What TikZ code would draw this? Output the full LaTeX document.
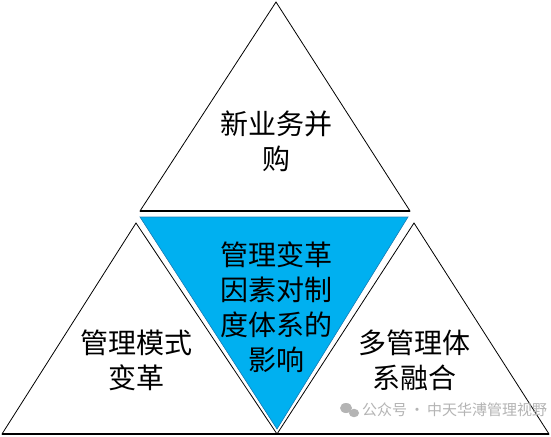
\documentclass[tikz,border=0pt]{standalone}
\usepackage{fontspec}
\newfontfamily\cjk{Noto Sans CJK SC}
\definecolor{skyblue}{HTML}{00B0F0}
\definecolor{skyedge}{HTML}{1F7FB8}
\definecolor{tealshade}{HTML}{1A9A8E}
\definecolor{markgray}{HTML}{B4B4B4}

\begin{document}
\begin{tikzpicture}[x=1pt,y=-1pt,
    tri/.style={draw=black,line width=0.8pt,line join=miter,fill=white},
    lbl/.style={font=\cjk\fontsize{28}{35}\selectfont,align=center,inner sep=0pt}]

    \useasboundingbox (0,0) rectangle (551,436);

    % corners
    \coordinate (TopA) at (276,2);
    \coordinate (TopL) at (140,211);
    \coordinate (TopR) at (410,211);

    \coordinate (LeftA) at (136,223);
    \coordinate (LeftL) at (2,434);
    \coordinate (LeftR) at (277,434);

    \coordinate (RightA) at (414,223);
    \coordinate (RightL) at (277,434);
    \coordinate (RightR) at (549,434);

    \coordinate (MidL) at (140,217);
    \coordinate (MidR) at (408,217);
    \coordinate (MidB) at (277,429);

    % triangles
    \draw[tri] (TopA) -- (TopR) -- (TopL) -- cycle;
    \draw[tri] (LeftA) -- (LeftR) -- (LeftL) -- cycle;
    \draw[tri] (RightA) -- (RightR) -- (RightL) -- cycle;
    \draw[line width=1.6pt] (LeftL) -- (RightR);
    \draw[line width=1.3pt] (TopL) -- (TopR);

    \fill[tealshade,shift={(5,4)}] (MidL) -- (MidR) -- (MidB) -- cycle;
    \draw[skyedge,fill=skyblue,line width=0.6pt] (MidL) -- (MidR) -- (MidB) -- cycle;

    % texts
    \node[lbl] (merge) at (276,141) {新业务并\\购};
    \node[lbl] (impact) at (276,307) {管理变革\\因素对制\\度体系的\\影响};
    \node[lbl] (mode) at (136,360) {管理模式\\变革};
    \node[lbl] (fuse) at (414,360) {多管理体\\系融合};

    % watermark
    \fill[markgray] (346,408) ellipse (6pt and 5pt);
    \fill[markgray] (354,413) ellipse (5pt and 4.2pt);
    \node[font=\cjk\fontsize{15}{15}\selectfont,text=markgray,anchor=west,inner sep=0pt]
        (mark) at (362,410) {公众号\,·\,中天华溥管理视野};

\end{tikzpicture}
\end{document}
